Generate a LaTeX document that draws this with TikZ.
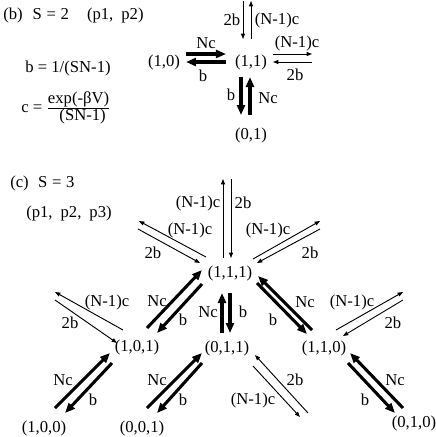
\documentclass[tikz,border=0pt]{standalone}
\usepackage{fontspec}
\setmainfont{Liberation Serif}
\usetikzlibrary{arrows.meta}
\begin{document}
\begin{tikzpicture}[x=0.75pt,y=-0.75pt,font=\fontsize{12.5}{15}\selectfont]
\tikzstyle{mystate} = [inner sep=1pt] % state node style
\tikzstyle{mytext} = [inner sep=0pt] % rate and title text
\tikzstyle{myfat} = [line width=2.3pt, -{Triangle[length=7.5pt,width=6pt]}] % Nc and b
\tikzstyle{myslim} = [line width=0.7pt, -{Triangle[length=4pt,width=3pt]}] % (N-1)c and 2b
\useasboundingbox (0,0) rectangle (436,437);

% (b) two sites
\node[mytext, anchor=west] (titleb) at (3,15) {(b)\hspace{7.5pt}S\hspace{3.5pt}=\hspace{3.5pt}2\hspace{13.5pt}(p1,\hspace{6pt}p2)};
\node[mytext] (rateb) at (68,68) {b = 1/(SN-1)};
\node[mytext, anchor=west] (ratec) at (21,108) {c = $\frac{\hbox{exp(-βV)}}{\hbox{\hspace{6pt}(SN-1)}}$};
\node[mystate] (s10) at (164,62) {(1,0)};
\node[mystate] (s11) at (251,62) {(1,1)};
\node[mystate] (s01) at (251,135) {(0,1)};
\draw[myfat] ([shift={(22,-8)}]s10.center) -- ([shift={(-25,-8)}]s11.center);
\draw[myfat] ([shift={(-25,0)}]s11.center) -- ([shift={(22,0)}]s10.center);
\draw[myfat] ([shift={(-10,15)}]s11.center) -- ([shift={(-10,-20)}]s01.center);
\draw[myfat] ([shift={(-1,-20)}]s01.center) -- ([shift={(-1,15)}]s11.center);
\draw[myslim] ([shift={(22,-8)}]s11.center) -- ++(39,0);
\draw[myslim] ([shift={(61,0)}]s11.center) -- ++(-39,0);
\draw[myslim] ([shift={(-8,-61)}]s11.center) -- ++(0,38);
\draw[myslim] ([shift={(0,-23)}]s11.center) -- ++(0,-38);
\node (lb1) at (206,43) {Nc};
\node (lb2) at (203,76) {b};
\node (lb3) at (297,43) {(N-1)c};
\node (lb4) at (295,75) {2b};
\node (lb5) at (232,20) {2b};
\node (lb6) at (277,20) {(N-1)c};
\node (lb7) at (231,95) {b};
\node (lb8) at (268,98) {Nc};

% (c) three sites
\node[mytext, anchor=west] (titlec) at (10,183) {(c)\hspace{7pt}S\hspace{3.5pt}=\hspace{3.5pt}3};
\node[mytext, anchor=west] (plist) at (26,213) {(p1,\hspace{6pt}p2,\hspace{6pt}p3)};
\node[mystate] (s111) at (230,273) {(1,1,1)};
\node[mystate] (s101) at (137,347) {(1,0,1)};
\node[mystate] (s011) at (227,348) {(0,1,1)};
\node[mystate] (s110) at (324,348) {(1,1,0)};
\node[mystate] (s100) at (44,428) {(1,0,0)};
\node[mystate] (s001) at (142,428) {(0,0,1)};
\node[mystate] (s010) at (414,423) {(0,1,0)};
% thick pairs
\draw[myfat] ([shift={(10,-19)}]s101.center) -- ([shift={(-28,-3)}]s111.center);
\draw[myfat] ([shift={(-28,11)}]s111.center) -- ([shift={(20,-14)}]s101.center);
\draw[myfat] ([shift={(-5,-15)}]s011.center) -- ([shift={(-8,20)}]s111.center);
\draw[myfat] ([shift={(0,20)}]s111.center) -- ([shift={(3,-15)}]s011.center);
\draw[myfat] ([shift={(-12,-18)}]s110.center) -- ([shift={(28,3)}]s111.center);
\draw[myfat] ([shift={(27,10)}]s111.center) -- ([shift={(-17,-14)}]s110.center);
\draw[myfat] ([shift={(11,-20)}]s100.center) -- ([shift={(-27,6)}]s101.center);
\draw[myfat] ([shift={(-25,16)}]s101.center) -- ([shift={(21,-15)}]s100.center);
\draw[myfat] ([shift={(5,-20)}]s001.center) -- ([shift={(-25,5)}]s011.center);
\draw[myfat] ([shift={(-25,15)}]s011.center) -- ([shift={(15,-15)}]s001.center);
\draw[myfat] ([shift={(-11,-15)}]s010.center) -- ([shift={(26,5)}]s110.center);
\draw[myfat] ([shift={(24,15)}]s110.center) -- ([shift={(-19,-10)}]s010.center);
% thin pairs, free ends
\draw[myslim] ([shift={(-24,-16)}]s111.center) -- ++(-67,-36);
\draw[myslim] ([shift={(-92,-44)}]s111.center) -- ++(62,34);
\draw[myslim] ([shift={(-7,-15)}]s111.center) -- ++(0,-79);
\draw[myslim] ([shift={(1,-94)}]s111.center) -- ++(0,79);
\draw[myslim] ([shift={(23,-14)}]s111.center) -- ++(67,-38);
\draw[myslim] ([shift={(90,-44)}]s111.center) -- ++(-63,34);
\draw[myslim] ([shift={(-14,-17)}]s101.center) -- ++(-68,-38);
\draw[myslim] ([shift={(-82,-47)}]s101.center) -- ++(62,43);
\draw[myslim] ([shift={(12,-18)}]s110.center) -- ++(67,-38);
\draw[myslim] ([shift={(79,-48)}]s110.center) -- ++(-60,36);
\draw[myslim] ([shift={(81,65)}]s011.center) -- ++(-53,-58);
\draw[myslim] ([shift={(26,18)}]s011.center) -- ++(47,51);
% rate labels
\node (lc1) at (190,230) {(N-1)c};
\node (lc2) at (153,253) {2b};
\node (lc3) at (198,203) {(N-1)c};
\node (lc4) at (243,203) {2b};
\node (lc5) at (268,230) {(N-1)c};
\node (lc6) at (310,253) {2b};
\node (lc7) at (157,301) {Nc};
\node (lc8) at (183,320) {b};
\node (lc9) at (208,312) {Nc};
\node (lc10) at (243,312) {b};
\node (lc11) at (305,302) {Nc};
\node (lc12) at (273,320) {b};
\node (lc13) at (107,302) {(N-1)c};
\node (lc14) at (70,323) {2b};
\node (lc15) at (352,302) {(N-1)c};
\node (lc16) at (393,323) {2b};
\node (lc17) at (63,380) {Nc};
\node (lc18) at (93,400) {b};
\node (lc19) at (157,380) {Nc};
\node (lc20) at (183,400) {b};
\node (lc21) at (295,380) {2b};
\node (lc22) at (253,400) {(N-1)c};
\node (lc23) at (395,380) {Nc};
\node (lc24) at (365,400) {b};
\end{tikzpicture}
\end{document}
